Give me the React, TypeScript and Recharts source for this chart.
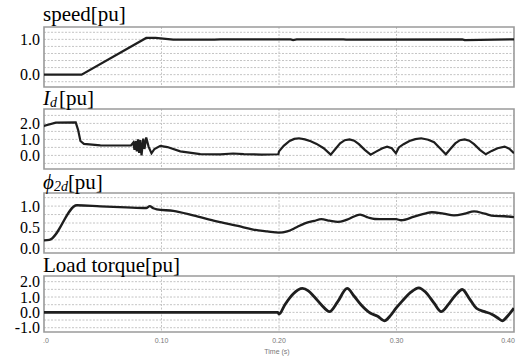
import React from 'react';
import { LineChart, Line, XAxis, YAxis, CartesianGrid, ReferenceArea } from 'recharts';

// ---- data ----
const speedT = [0, 0.032, 0.087, 0.095, 0.11, 0.145, 0.15, 0.21, 0.212, 0.215, 0.255, 0.257, 0.356, 0.358, 0.4];
const speedV = [0, 0, 1.04, 1.04, 0.99, 0.99, 1.0, 1.0, 0.98, 1.0, 1.0, 0.99, 1.0, 0.98, 1.0];

const idT = [0, 0.0005, 0.01, 0.027, 0.029, 0.031, 0.034, 0.048, 0.074, 0.076, 0.077, 0.078, 0.079, 0.08, 0.081, 0.082, 0.083, 0.0845, 0.0855, 0.087, 0.089, 0.0915, 0.094, 0.099, 0.105, 0.116, 0.133, 0.15, 0.161, 0.17, 0.185, 0.1995, 0.2, 0.204, 0.209, 0.213, 0.217, 0.222, 0.227, 0.232, 0.238, 0.244, 0.248, 0.252, 0.256, 0.26, 0.264, 0.268, 0.273, 0.278, 0.283, 0.288, 0.292, 0.296, 0.2995, 0.302, 0.306, 0.311, 0.316, 0.321, 0.327, 0.332, 0.337, 0.342, 0.346, 0.35, 0.354, 0.358, 0.362, 0.366, 0.371, 0.376, 0.381, 0.386, 0.392, 0.396, 0.4];
const idV = [1.8, 1.85, 2.05, 2.06, 1.6, 0.9, 0.72, 0.63, 0.62, 0.8, 0.35, 0.9, 0.25, 1.0, 0.15, 0.95, 0.0, 1.05, 0.4, 1.12, 0.55, 0.13, 0.4, 0.6, 0.52, 0.25, 0.08, 0.06, 0.12, 0.08, 0.05, 0.07, 0.25, 0.6, 0.9, 1.03, 1.07, 1.0, 0.88, 0.72, 0.45, 0.05, 0.4, 0.75, 0.95, 1.0, 0.92, 0.7, 0.35, 0.05, 0.25, 0.45, 0.55, 0.45, 0.13, 0.5, 0.7, 0.9, 1.02, 1.07, 0.98, 0.82, 0.45, 0.07, 0.42, 0.75, 0.95, 1.0, 0.92, 0.7, 0.35, 0.07, 0.28, 0.45, 0.55, 0.42, 0.13];

const phiT = [0, 0.0045, 0.028, 0.048, 0.07, 0.087, 0.09, 0.093, 0.096, 0.11, 0.127, 0.147, 0.165, 0.178, 0.19, 0.2, 0.207, 0.215, 0.222, 0.23, 0.236, 0.243, 0.25, 0.258, 0.269, 0.276, 0.2815, 0.29, 0.2996, 0.304, 0.315, 0.325, 0.33, 0.34, 0.349, 0.358, 0.366, 0.375, 0.383, 0.392, 0.4];
const phiV = [0.19, 0.2, 1.02, 0.995, 0.97, 0.955, 1.0, 0.95, 0.925, 0.885, 0.78, 0.64, 0.53, 0.445, 0.4, 0.37, 0.4, 0.5, 0.59, 0.65, 0.69, 0.655, 0.625, 0.68, 0.8, 0.73, 0.695, 0.69, 0.69, 0.665, 0.75, 0.83, 0.855, 0.82, 0.78, 0.82, 0.877, 0.82, 0.767, 0.76, 0.74];

const torqueT = [0, 0.199, 0.2, 0.205, 0.212, 0.22, 0.225, 0.23, 0.236, 0.243, 0.25, 0.258, 0.264, 0.27, 0.278, 0.284, 0.2896, 0.295, 0.2996, 0.305, 0.312, 0.319, 0.325, 0.332, 0.338, 0.344, 0.35, 0.356, 0.362, 0.368, 0.375, 0.381, 0.386, 0.39, 0.395, 0.4];
const torqueV = [0, 0, -0.12, 0.5, 1.2, 1.56, 1.4, 1.02, 0.5, 0.05, 0.7, 1.56, 1.05, 0.48, -0.06, -0.25, -0.55, -0.2, 0.27, 0.75, 1.3, 1.6, 1.3, 0.6, 0.05, 0.5, 1.1, 1.49, 0.9, 0.27, 0.05, -0.12, -0.35, -0.55, -0.2, 0.27];

const xTicks = [0, 0.1, 0.2, 0.3, 0.4];
const xTickLabels = ['.0', '0.10', '0.20', '0.30', '0.40'];
const vGrid = [0.1, 0.2, 0.3];

const zip = (t: number[], v: number[]) => t.map((x, i) => ({ t: x, v: v[i] }));

const W = 522;
const PAD = 12;
const SERIF = '"Liberation Serif", "Times New Roman", serif';
const SANS = '"Liberation Sans", Arial, sans-serif';

type PanelProps = {
  top: number;
  plotH: number;
  data: { t: number; v: number }[];
  domain: [number, number];
  ticks: number[];
  grid: number[];
  strokeWidth: number;
  curve: 'linear' | 'monotone';
  showX?: boolean;
};

const XTick = (props: any) => {
  const { x, y, payload } = props;
  const i = xTicks.indexOf(payload.value);
  const label = i >= 0 ? xTickLabels[i] : '';
  let anchor: 'start' | 'middle' | 'end' = 'middle';
  let dx = 0;
  if (i === 0) { anchor = 'start'; dx = -1; }
  if (i === 4) { dx = -6; }
  return (
    <text x={x + dx} y={y + 11} textAnchor={anchor} fontSize={7} fill="#777" fontFamily={SANS}>
      {label}
    </text>
  );
};

const YTick = (props: any) => {
  const { x, y, payload } = props;
  return (
    <text x={x} y={y} dy="0.36em" textAnchor="end" fontSize={16} fill="#000" fontFamily={SERIF}>
      {Number(payload.value).toFixed(1)}
    </text>
  );
};

function Panel({ top, plotH, data, domain, ticks, grid, strokeWidth, curve, showX }: PanelProps) {
  const xh = showX ? 26 : 0;
  return (
    <div style={{ position: 'absolute', left: 0, top: top - PAD }}>
      <LineChart width={W} height={plotH + xh + 2 * PAD} data={data} margin={{ top: PAD, right: 8, bottom: PAD, left: 0 }}>
        <CartesianGrid
          horizontalValues={grid}
          verticalValues={vGrid}
          stroke="#c4c4c4"
          strokeDasharray="2 1.5"
        />
        <XAxis
          dataKey="t"
          type="number"
          domain={[0, 0.4]}
          ticks={xTicks}
          hide={!showX}
          height={xh}
          axisLine={false}
          tickLine={false}
          tickSize={0}
          tickMargin={0}
          tick={<XTick />}
          interval={0}
          allowDataOverflow
        />
        <YAxis
          type="number"
          domain={domain}
          ticks={ticks}
          width={44}
          axisLine={false}
          tickLine={false}
          tickSize={0}
          tickMargin={4}
          interval={0}
          allowDataOverflow
          tick={<YTick />}
        />
        <ReferenceArea x1={0} x2={0.4} y1={domain[0]} y2={domain[1]} fill="none" stroke="#9a9a9a" strokeWidth={1.6} ifOverflow="extendDomain" />
        <Line dataKey="v" type={curve} stroke="#1e1e1e" strokeWidth={strokeWidth} dot={false} isAnimationActive={false} />
      </LineChart>
    </div>
  );
}

export default function App() {
  return (
    <div style={{ position: 'absolute', left: 0, top: 0, width: W, height: 358, background: '#fff', overflow: 'hidden' }}>
      <Panel top={27} plotH={60} data={zip(speedT, speedV)} domain={[-0.35, 1.35]} ticks={[0, 1]} grid={[-0.2, 0, 0.2, 0.4, 0.6, 0.8, 1.0, 1.2]} strokeWidth={2.2} curve="linear" />
      <Panel top={109} plotH={60} data={zip(idT, idV)} domain={[-0.85, 2.9]} ticks={[0, 1, 2]} grid={[-0.5, 0, 0.5, 1, 1.5, 2, 2.5]} strokeWidth={2.2} curve="linear" />
      <Panel top={193} plotH={60} data={zip(phiT, phiV)} domain={[-0.11, 1.31]} ticks={[0, 0.5, 1]} grid={[0, 0.2, 0.4, 0.6, 0.8, 1.0, 1.2]} strokeWidth={2.3} curve="monotone" />
      <Panel top={276} plotH={56} data={zip(torqueT, torqueV)} domain={[-1.28, 2.37]} ticks={[-1, 0, 1, 2]} grid={[-1, -0.5, 0, 0.5, 1, 1.5, 2]} strokeWidth={2.8} curve="monotone" showX />
      <svg width={W} height={358} style={{ position: 'absolute', left: 0, top: 0, pointerEvents: 'none' }}>
        <g fontFamily={SERIF} fontSize={21} fill="#000">
          <text x={43} y={21}>speed[pu]</text>
          <text x={43} y={105}>
            <tspan fontStyle="italic">I</tspan>
            <tspan fontStyle="italic" fontSize={14} dy={2}>d</tspan>
            <tspan dy={-2} dx={2}>[pu]</tspan>
          </text>
          <text x={43} y={189}>
            <tspan fontStyle="italic">ϕ</tspan>
            <tspan fontStyle="italic" fontSize={14} dy={2}>2d</tspan>
            <tspan dy={-2}>[pu]</tspan>
          </text>
          <text x={43} y={272}>Load torque[pu]</text>
        </g>
        <text x={277} y={354} textAnchor="middle" fontSize={7} fill="#777" fontFamily={SANS}>Time (s)</text>
      </svg>
    </div>
  );
}
